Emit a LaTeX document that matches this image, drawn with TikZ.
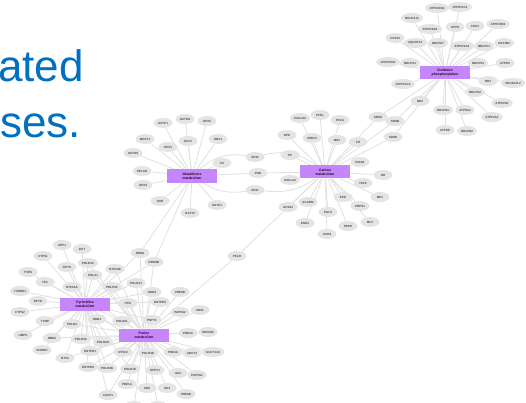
\documentclass[tikz,border=0pt]{standalone}
\usepackage{fontspec}
\setmainfont{Liberation Sans}
\usetikzlibrary{shapes.geometric,backgrounds}
\definecolor{titleblue}{RGB}{0,112,192}
\definecolor{hubviolet}{RGB}{196,134,250}
\definecolor{genegray}{RGB}{228,228,228}
\definecolor{linkgray}{RGB}{224,224,224}

\begin{document}
\begin{tikzpicture}[x=1pt,y=-1pt,
  gene/.style={ellipse,fill=genegray,inner sep=1pt,minimum width=19pt,minimum height=10pt,
    font=\fontsize{3}{3.4}\selectfont\bfseries,text=black!70},
  hub/.style={rectangle,fill=hubviolet,minimum width=50pt,minimum height=13pt,inner sep=.5pt,
    align=center,font=\fontsize{3.4}{4}\selectfont\bfseries,text=black!75!violet},
  link/.style={draw=linkgray,line width=.8pt},
  title/.style={text=titleblue,font=\fontsize{44}{52}\selectfont,inner sep=0pt,anchor=base east}]
\useasboundingbox (0,0) rectangle (526,403);

\node[title] (tline1) at (84,82) {ated};
\node[title] (tline2) at (81,138) {ses.};

\node[hub] (ox) at (445,73) {Oxidative\\phosphorylation};
\node[hub] (carb) at (325,172) {Carbon\\metabolism};
\node[hub] (glut) at (192,176) {Glutathione\\metabolism};
\node[hub] (pyr) at (85,304) {Pyrimidine\\metabolism};
\node[hub] (pur) at (144,335) {Purine\\metabolism};

\node[gene] (ATP6V1B2) at (437,8) {ATP6V1B2};
\node[gene] (ATP6V1C1) at (460,7) {ATP6V1C1};
\node[gene] (NDUFA13) at (412,18) {NDUFA13};
\node[gene] (ATP6V1B1) at (430,29) {ATP6V1B1};
\node[gene] (ATP5I) at (455,27) {ATP5I};
\node[gene] (COX1) at (475,26) {COX1};
\node[gene] (ATP6V0E2) at (498,24) {ATP6V0E2};
\node[gene] (COX10) at (395,38) {COX10};
\node[gene] (UQCRFS1) at (415,43) {UQCRFS1};
\node[gene] (NDUFA7) at (438,43) {NDUFA7};
\node[gene] (ATP6V1G1) at (462,46) {ATP6V1G1};
\node[gene] (NDUFV1) at (484,46) {NDUFV1};
\node[gene] (COX7B2) at (504,43) {COX7B2};
\node[gene] (ATP6V0D1) at (388,62) {ATP6V0D1};
\node[gene] (NDUFS1) at (410,63) {NDUFS1};
\node[gene] (NDUFS3) at (478,63) {NDUFS3};
\node[gene] (ATP5D) at (505,63) {ATP5D};
\node[gene] (ATP6V1C2) at (403,84) {ATP6V1C2};
\node[gene] (ND3) at (488,81) {ND3};
\node[gene] (NDUFA4L2) at (513,83) {NDUFA4L2};
\node[gene] (NDUFS2) at (475,92) {NDUFS2};
\node[gene] (ND2) at (420,101) {ND2};
\node[gene] (ATP6V1D) at (502,103) {ATP6V1D};
\node[gene] (NDUFB1) at (443,110) {NDUFB1};
\node[gene] (ATP5G3) at (465,110) {ATP5G3};
\node[gene] (ATP6V1A) at (492,117) {ATP6V1A};
\node[gene] (ATP5B) at (445,130) {ATP5B};
\node[gene] (NDUFB2) at (467,131) {NDUFB2};
\node[gene] (SDHA) at (378,117) {SDHA};
\node[gene] (SDHB) at (395,121) {SDHB};
\node[gene] (SDHD) at (393,137) {SDHD};

\node[gene] (SUCLG2) at (300,118) {SUCLG2};
\node[gene] (PFKL) at (320,115) {PFKL};
\node[gene] (PCCA) at (340,120) {PCCA};
\node[gene] (RPE) at (287,135) {RPE};
\node[gene] (HIBCH) at (312,138) {HIBCH};
\node[gene] (ME3) at (337,140) {ME3};
\node[gene] (FH) at (358,142) {FH};
\node[gene] (PC) at (290,155) {PC};
\node[gene] (HIGD1) at (360,162) {HIGD1};
\node[gene] (IDH2) at (255,157) {IDH2};
\node[gene] (PGD) at (258,173) {PGD};
\node[gene] (IDH1) at (255,190) {IDH1};
\node[gene] (SUCLA2) at (290,180) {SUCLA2};
\node[gene] (ND) at (383,175) {ND};
\node[gene] (TKFC) at (363,183) {TKFC};
\node[gene] (ESD) at (343,197) {ESD};
\node[gene] (ME1) at (380,197) {ME1};
\node[gene] (ACADM) at (308,202) {ACADM};
\node[gene] (ACSS2) at (288,207) {ACSS2};
\node[gene] (PRPS1) at (360,206) {PRPS1};
\node[gene] (PGLS) at (328,212) {PGLS};
\node[gene] (MUT) at (370,222) {MUT};
\node[gene] (ENO1) at (305,223) {ENO1};
\node[gene] (H6PD) at (348,226) {H6PD};
\node[gene] (ACO2) at (327,234) {ACO2};

\node[gene] (GSTP1) at (163,123) {GSTP1};
\node[gene] (GSTM3) at (185,119) {GSTM3};
\node[gene] (GPX2) at (207,121) {GPX2};
\node[gene] (MGST1) at (145,139) {MGST1};
\node[gene] (GPX1) at (168,147) {GPX1};
\node[gene] (GGT1) at (188,141) {GGT1};
\node[gene] (ODC1) at (218,139) {ODC1};
\node[gene] (GSTM1) at (133,153) {GSTM1};
\node[gene] (CS) at (222,163) {CS};
\node[gene] (OPLAH) at (142,171) {OPLAH};
\node[gene] (GPX4) at (143,185) {GPX4};
\node[gene] (GSR) at (160,201) {GSR};
\node[gene] (GSTK1) at (217,205) {GSTK1};
\node[gene] (GSTT2) at (190,213) {GSTT2};
\node[gene] (RRM1) at (140,253) {RRM1};
\node[gene] (RRM2B) at (154,262) {RRM2B};
\node[gene] (PKLR) at (237,256) {PKLR};

\node[gene] (UPP1) at (62,245) {UPP1};
\node[gene] (DUT) at (82,249) {DUT};
\node[gene] (CTPS1) at (43,256) {CTPS1};
\node[gene] (DPYS) at (67,267) {DPYS};
\node[gene] (POLR1C) at (88,263) {POLR1C};
\node[gene] (TYMS) at (28,272) {TYMS};
\node[gene] (POLA1) at (93,275) {POLA1};
\node[gene] (NT5C3B) at (115,269) {NT5C3B};
\node[gene] (TK2) at (45,282) {TK2};
\node[gene] (NT5C3A) at (72,287) {NT5C3A};
\node[gene] (TXNRD1) at (20,291) {TXNRD1};
\node[gene] (POLR3F) at (112,287) {POLR3F};
\node[gene] (POLR2J) at (136,283) {POLR2J};
\node[gene] (DPYD) at (38,301) {DPYD};
\node[gene] (CTPS2) at (20,312) {CTPS2};
\node[gene] (ITPA) at (128,303) {ITPA};
\node[gene] (TYMP) at (45,321) {TYMP};
\node[gene] (NME4) at (97,319) {NME4};
\node[gene] (POLR2L) at (122,321) {POLR2L};
\node[gene] (POLD2) at (72,324) {POLD2};
\node[gene] (UMPS) at (23,335) {UMPS};
\node[gene] (NME2) at (52,338) {NME2};
\node[gene] (POLR3C) at (81,339) {POLR3C};
\node[gene] (POLR2G) at (103,342) {POLR2G};
\node[gene] (DHODH) at (42,350) {DHODH};
\node[gene] (ENTPD1) at (90,351) {ENTPD1};
\node[gene] (NT5C) at (65,358) {NT5C};
\node[gene] (ENTPD8) at (88,367) {ENTPD8};
\node[gene] (POLR3B) at (107,368) {POLR3B};
\node[gene] (CANT1) at (108,395) {CANT1};

\node[gene] (NME3) at (152,292) {NME3};
\node[gene] (PDE8B) at (180,292) {PDE8B};
\node[gene] (ENTPD5) at (160,302) {ENTPD5};
\node[gene] (PAPSS2) at (180,312) {PAPSS2};
\node[gene] (ADSL) at (200,310) {ADSL};
\node[gene] (PNPT1) at (152,320) {PNPT1};
\node[gene] (PDE3A) at (188,333) {PDE3A};
\node[gene] (IMPDH2) at (208,332) {IMPDH2};
\node[gene] (NT5C2) at (123,352) {NT5C2};
\node[gene] (POLR3D) at (148,353) {POLR3D};
\node[gene] (PDE4A) at (173,352) {PDE4A};
\node[gene] (ADCY3) at (192,353) {ADCY3};
\node[gene] (GUCY1A3) at (213,352) {GUCY1A3};
\node[gene] (POLR1E) at (130,369) {POLR1E};
\node[gene] (HPRT1) at (155,370) {HPRT1};
\node[gene] (AK2) at (178,373) {AK2};
\node[gene] (PAPSS1) at (197,375) {PAPSS1};
\node[gene] (PDE1A) at (127,384) {PDE1A};
\node[gene] (ADK) at (147,388) {ADK};
\node[gene] (AK4) at (167,388) {AK4};
\node[gene] (PDE6B) at (186,394) {PDE6B};
\node[gene] (bottomA) at (134,406) {};
\node[gene] (bottomB) at (158,406) {};

\begin{scope}[on background layer]
\foreach \g in {ATP6V1B2,ATP6V1C1,NDUFA13,ATP6V1B1,ATP5I,COX1,ATP6V0E2,COX10,UQCRFS1,
  NDUFA7,ATP6V1G1,NDUFV1,COX7B2,ATP6V0D1,NDUFS1,NDUFS3,ATP5D,ATP6V1C2,ND3,NDUFA4L2,
  NDUFS2,ND2,ATP6V1D,NDUFB1,ATP5G3,ATP6V1A,ATP5B,NDUFB2,SDHA,SDHB,SDHD}
  \draw[link] (ox) -- (\g);
\foreach \g in {SUCLG2,PFKL,PCCA,RPE,HIBCH,ME3,FH,PC,HIGD1,PGD,SUCLA2,ND,TKFC,ESD,ME1,
  ACADM,ACSS2,PRPS1,PGLS,MUT,ENO1,H6PD,ACO2,SDHA,SDHB,SDHD,PKLR}
  \draw[link] (carb) -- (\g);
\foreach \g in {GSTP1,GSTM3,GPX2,MGST1,GPX1,GGT1,ODC1,GSTM1,CS,OPLAH,GPX4,GSR,GSTK1,
  GSTT2,PGD,RRM1,RRM2B}
  \draw[link] (glut) -- (\g);
\draw[link] (glut) to[bend left=25] (IDH2);
\draw[link] (carb) to[bend right=25] (IDH2);
\draw[link] (glut) to[bend right=20] (IDH1);
\draw[link] (carb) to[bend left=20] (IDH1);
\foreach \g in {UPP1,DUT,CTPS1,DPYS,TYMS,TK2,TXNRD1,DPYD,CTPS2,TYMP,UMPS,DHODH}
  \draw[link] (pyr) -- (\g);
\foreach \g in {POLR1C,POLA1,NT5C3B,NT5C3A,POLR3F,POLR2J,ITPA,NME4,POLR2L,POLD2,NME2,
  POLR3C,POLR2G,ENTPD1,NT5C,ENTPD8,POLR3B,CANT1,RRM1,RRM2B,NME3,PNPT1,ENTPD5,
  POLR3D,POLR1E}
  {\draw[link] (pyr) -- (\g); \draw[link] (pur) -- (\g);}
\foreach \g in {PDE8B,PAPSS2,ADSL,PDE3A,IMPDH2,NT5C2,PDE4A,ADCY3,GUCY1A3,HPRT1,AK2,
  PAPSS1,PDE1A,ADK,AK4,PDE6B,PKLR,bottomA,bottomB}
  \draw[link] (pur) -- (\g);
\end{scope}
\end{tikzpicture}
\end{document}
